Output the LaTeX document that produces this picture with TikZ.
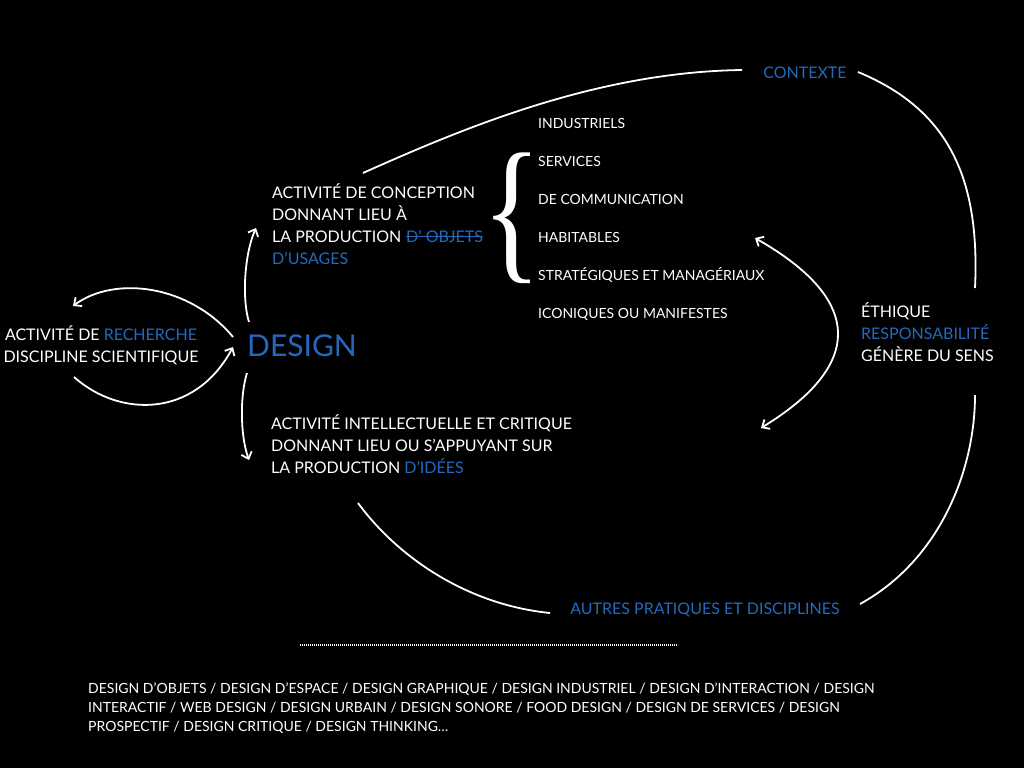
\documentclass[tikz,border=0pt]{standalone}
\usepackage{fontspec}
\setmainfont{Lato}
\newfontfamily\braceserif{Liberation Serif}
\usetikzlibrary{arrows.meta}
\definecolor{dblue}{RGB}{35,105,190}
\begin{document}
\begin{tikzpicture}[x=1pt,y=-1pt,
  txt/.style={text=white,inner sep=0pt,anchor=base west},
  big/.style={font=\fontsize{16}{20}\selectfont},
  small/.style={font=\fontsize{14}{16}\selectfont},
  mid/.style={font=\fontsize{16}{17}\selectfont},
  link/.style={draw=white,line width=1.8pt},
  arr/.style={link,-{Straight Barb[length=6pt,width=11pt,line width=1.8pt]}},
  darr/.style={link,{Straight Barb[length=6pt,width=11pt,line width=1.8pt]}-{Straight Barb[length=6pt,width=11pt,line width=1.8pt]}}]
\useasboundingbox (0,0) rectangle (1024,768);
\fill[black] (0,0) rectangle (1024,768);

% DESIGN
\node[txt,text=dblue,font=\fontsize{30}{30}\selectfont] (design) at (247,356) {DESIGN};

% conception
\node[txt,big] (c1) at (272,198) {ACTIVITÉ DE CONCEPTION};
\node[txt,big] (c2) at (272,220) {DONNANT LIEU À};
\node[txt,big] (c3) at (272,242) {LA PRODUCTION};
\node[txt,big,text=dblue,anchor=base west] (c3b) at ([xshift=4.5pt]c3.base east) {D’ OBJETS};
\draw[dblue,line width=1pt] (c3b.west) ++(0,-1pt) -- ([yshift=-1pt]c3b.east);
\node[txt,big,text=dblue] (c4) at (272,264) {D’USAGES};

% intellectuelle
\node[txt,big] (i1) at (271,429) {ACTIVITÉ INTELLECTUELLE ET CRITIQUE};
\node[txt,big] (i2) at (271,451) {DONNANT LIEU OU S’APPUYANT SUR};
\node[txt,big] (i3) at (271,473) {LA PRODUCTION \textcolor{dblue}{D’IDÉES}};

% recherche
\node[txt,big,anchor=base] (r1) at (101,340) {ACTIVITÉ DE \textcolor{dblue}{RECHERCHE}};
\node[txt,big,anchor=base] (r2) at (101,362) {DISCIPLINE SCIENTIFIQUE};

% ethique
\node[txt,big] (e1) at (861,317) {ÉTHIQUE};
\node[txt,big,text=dblue] (e2) at (861,339) {RESPONSABILITÉ};
\node[txt,big] (e3) at (861,361) {GÉNÈRE DU SENS};

% list
\node[txt,small] (l1) at (538,128) {INDUSTRIELS};
\node[txt,small] (l2) at (538,166) {SERVICES};
\node[txt,small] (l3) at (538,204) {DE COMMUNICATION};
\node[txt,small] (l4) at (538,242) {HABITABLES};
\node[txt,small] (l5) at (538,280) {STRATÉGIQUES ET MANAGÉRIAUX};
\node[txt,small] (l6) at (538,318) {ICONIQUES OU MANIFESTES};

% brace
\node[txt,anchor=base,font=\fontsize{158}{158}\selectfont\braceserif] (brace) at (512,262) {\makebox[28pt]{\scalebox{0.78}[1]{\{}}};

% contexte & autres
\node[txt,mid,text=dblue,anchor=base] (ctx) at (805,78) {CONTEXTE};
\node[txt,mid,text=dblue,anchor=base] (aut) at (705,614) {AUTRES PRATIQUES ET DISCIPLINES};

% bottom text
\node[txt,small] (b1) at (88,693) {DESIGN D’OBJETS / DESIGN D’ESPACE / DESIGN GRAPHIQUE / DESIGN INDUSTRIEL / DESIGN D’INTERACTION / DESIGN};
\node[txt,small] (b2) at (88,712) {INTERACTIF / WEB DESIGN / DESIGN URBAIN / DESIGN SONORE / FOOD DESIGN / DESIGN DE SERVICES / DESIGN};
\node[txt,small] (b3) at (88,731) {PROSPECTIF / DESIGN CRITIQUE / DESIGN THINKING…};

% coordinates for connectors
\coordinate (dUp) at (249,322);
\coordinate (cIn) at (256,228);
\coordinate (dDn) at (247,373);
\coordinate (iIn) at (249,460);
\coordinate (dL1) at (233,337);
\coordinate (rIn) at (73,306);
\coordinate (rOut) at (74,377);
\coordinate (dL2) at (233,347);
\coordinate (lsT) at (755,238);
\coordinate (lsB) at (761,428);
\coordinate (cOut) at (363,173);
\coordinate (ctxL) at (742,70);
\coordinate (ctxR) at (858,72);
\coordinate (eT) at (975,288);
\coordinate (eB) at (975,395);
\coordinate (autR) at (860,604);
\coordinate (iOut) at (358,503);
\coordinate (autL) at (550,613);

\draw[arr] (dUp) .. controls (242,300) and (244,255) .. (cIn);
\draw[arr] (dDn) .. controls (240,395) and (240,435) .. (iIn);
\draw[arr] (dL1) .. controls (190,285) and (115,275) .. (rIn);
\draw[arr] (rOut) .. controls (120,418) and (195,418) .. (dL2);
\draw[darr] (lsT) .. controls (864,300) and (864,365) .. (lsB);
\draw[link] (cOut) .. controls (470,125) and (600,72) .. (ctxL);
\draw[link] (ctxR) .. controls (950,110) and (980,180) .. (eT);
\draw[link] (eB) .. controls (975,470) and (940,560) .. (autR);
\draw[link] (iOut) .. controls (400,560) and (470,605) .. (autL);

% dotted line
\coordinate (dotA) at (300,645);
\coordinate (dotB) at (678,645);
\draw[white,line width=1.3pt,dash pattern=on 0.9pt off 1.1pt] (dotA) -- (dotB);
\end{tikzpicture}
\end{document}
